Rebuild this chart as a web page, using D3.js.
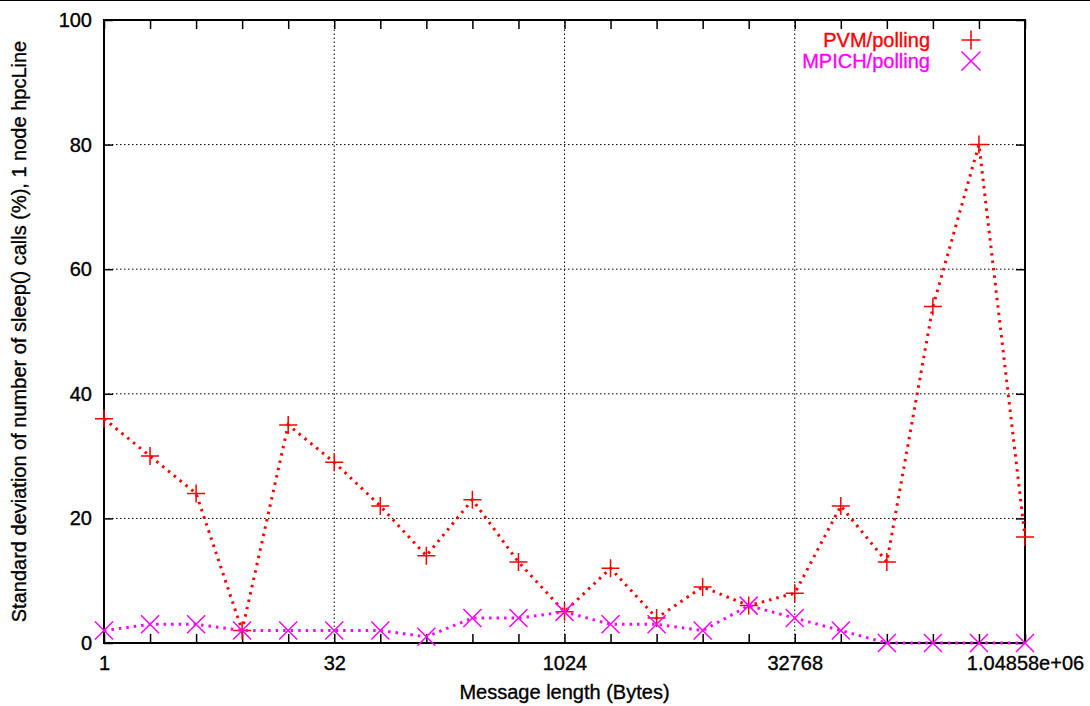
<!DOCTYPE html>
<html>
<head>
<meta charset="utf-8">
<script src="https://cdn.jsdelivr.net/npm/d3@7"></script>
<style>
  body { margin: 0; background: #fff; }
  svg text { font-family: "Liberation Sans", Arial, sans-serif; }
</style>
</head>
<body>
<script>
// message lengths 2^0 .. 2^20
let exponents = d3.range(0, 21);
let pvmValues = [36, 30, 24, 2, 35, 29, 22, 14, 23, 13, 5, 12, 4, 9, 6, 8, 22, 13, 54, 80, 17];
let mpichValues = [2, 3, 3, 2, 2, 2, 2, 1, 4, 4, 5, 3, 3, 2, 6, 4, 2, 0, 0, 0, 0];
let xTickValues = [1, 32, 1024, 32768, 1048576];
let xTickLabels = ["1", "32", "1024", "32768", "1.04858e+06"];
let yTickValues = [0, 20, 40, 60, 80, 100];

var width = 1090, height = 706;
var margin = {left: 104, right: 65, top: 20, bottom: 63};
var fontSize = "20px";

var svg = d3.select("body")
  .append("svg")
  .attr("width", width)
  .attr("height", height);

// thin rule along the top of the picture
svg.append("line")
  .attr("x1", 0).attr("x2", width)
  .attr("y1", 0.5).attr("y2", 0.5)
  .attr("stroke", "#000").attr("stroke-width", 1);

var x = d3.scaleLog().base(2)
  .domain([1, 1048576])
  .range([margin.left, width - margin.right]);

var y = d3.scaleLinear()
  .domain([0, 100])
  .range([height - margin.bottom, margin.top]);

var x0 = margin.left, x1 = width - margin.right;
var y0 = height - margin.bottom, y1 = margin.top;

// grid
var grid = svg.append("g");
grid.selectAll(".gx")
  .data(xTickValues.slice(1, -1))
  .enter()
  .append("line")
  .attr("x1", d => x(d)).attr("x2", d => x(d))
  .attr("y1", y0).attr("y2", y1)
  .attr("stroke", "#000").attr("stroke-width", 1)
  .attr("stroke-dasharray", "1.5,2.5");
grid.selectAll(".gy")
  .data(yTickValues.slice(1, -1))
  .enter()
  .append("line")
  .attr("x1", x0).attr("x2", x1)
  .attr("y1", d => y(d)).attr("y2", d => y(d))
  .attr("stroke", "#000").attr("stroke-width", 1)
  .attr("stroke-dasharray", "1.5,2.5");

// axes
var tickLen = 9;
var xAxisB = d3.axisBottom(x)
  .tickValues(exponents.map(e => Math.pow(2, e)))
  .tickSize(-tickLen)
  .tickFormat(d => {
    var i = xTickValues.indexOf(d);
    return i >= 0 ? xTickLabels[i] : "";
  });
var xAxisT = d3.axisTop(x)
  .tickValues(exponents.map(e => Math.pow(2, e)))
  .tickSize(-tickLen)
  .tickFormat("");
var yAxisL = d3.axisLeft(y).tickValues(yTickValues).tickSize(-tickLen);
var yAxisR = d3.axisRight(y).tickValues(yTickValues).tickSize(-tickLen).tickFormat("");

function styleAxis(g) {
  g.select(".domain").remove();
  g.selectAll(".tick line").attr("stroke", "#000").attr("stroke-width", 1.5);
  g.selectAll(".tick text")
    .attr("fill", "#000")
    .attr("stroke", "#000")
    .attr("stroke-width", 0.35)
    .style("font-size", fontSize);
}

svg.append("g").attr("transform", "translate(0," + y0 + ")").call(xAxisB).call(styleAxis)
  .selectAll(".tick text").attr("y", 0).attr("dy", "1.33em");
svg.append("g").attr("transform", "translate(0," + y1 + ")").call(xAxisT).call(styleAxis);
svg.append("g").attr("transform", "translate(" + x0 + ",0)").call(yAxisL).call(styleAxis)
  .selectAll(".tick text").attr("x", -12);
svg.append("g").attr("transform", "translate(" + x1 + ",0)").call(yAxisR).call(styleAxis);

// frame
svg.append("rect")
  .attr("x", x0).attr("y", y1)
  .attr("width", x1 - x0).attr("height", y0 - y1)
  .attr("fill", "none").attr("stroke", "#000").attr("stroke-width", 2);

// series
var series = [
  {name: "PVM/polling", values: pvmValues, color: "#ff0000", marker: "plus"},
  {name: "MPICH/polling", values: mpichValues, color: "#ff00ff", marker: "cross"}
];

var line = d3.line()
  .x(d => x(Math.pow(2, d.e)))
  .y(d => y(d.v));

function markerPath(type, s) {
  if (type === "plus") {
    return "M" + (-s) + ",0H" + s + "M0," + (-s) + "V" + s;
  }
  return "M" + (-s) + "," + (-s) + "L" + s + "," + s + "M" + (-s) + "," + s + "L" + s + "," + (-s);
}

series.forEach(function(sr) {
  var pts = exponents.map((e, i) => ({e: e, v: sr.values[i]}));
  svg.append("path")
    .datum(pts)
    .attr("d", line)
    .attr("fill", "none")
    .attr("stroke", sr.color)
    .attr("stroke-width", 3)
    .attr("stroke-dasharray", "2.5,5");
  svg.selectAll(".m-" + sr.marker)
    .data(pts)
    .enter()
    .append("path")
    .attr("transform", d => "translate(" + x(Math.pow(2, d.e)) + "," + y(d.v) + ")")
    .attr("d", markerPath(sr.marker, 9))
    .attr("fill", "none")
    .attr("stroke", sr.color)
    .attr("stroke-width", 1.5);
});

// legend
series.forEach(function(sr, i) {
  var ly = 40 + i * 21;
  svg.append("text")
    .attr("x", 930).attr("y", ly)
    .attr("dy", "0.35em")
    .attr("text-anchor", "end")
    .attr("fill", sr.color)
    .attr("stroke", sr.color)
    .attr("stroke-width", 0.35)
    .style("font-size", fontSize)
    .text(sr.name);
  svg.append("path")
    .attr("transform", "translate(971," + ly + ")")
    .attr("d", markerPath(sr.marker, 9.5))
    .attr("fill", "none")
    .attr("stroke", sr.color)
    .attr("stroke-width", 1.5);
});

// axis titles
svg.append("text")
  .attr("x", (x0 + x1) / 2)
  .attr("y", 699)
  .attr("text-anchor", "middle")
  .attr("stroke", "#000")
  .attr("stroke-width", 0.35)
  .style("font-size", fontSize)
  .text("Message length (Bytes)");

svg.append("text")
  .attr("transform", "translate(26," + ((y0 + y1) / 2) + ") rotate(-90)")
  .attr("text-anchor", "middle")
  .attr("stroke", "#000")
  .attr("stroke-width", 0.35)
  .style("font-size", fontSize)
  .text("Standard deviation of number of sleep() calls (%), 1 node hpcLine");
</script>
</body>
</html>
